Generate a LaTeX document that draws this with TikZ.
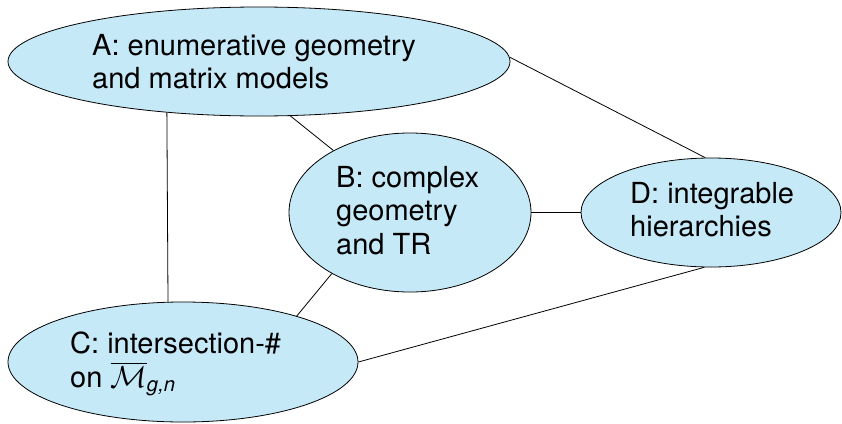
\documentclass[tikz,border=0pt]{standalone}
\usepackage{amsmath}
\usepackage{fontspec}
\setmainfont{TeX Gyre Heros}
\usetikzlibrary{shapes.geometric}
\definecolor{bubble}{RGB}{198,233,248}
\begin{document}
\begin{tikzpicture}[x=1pt,y=-1pt,
  bub/.style={ellipse,draw=black,fill=bubble,line width=0.8pt,inner sep=0pt},
  lab/.style={anchor=north west,align=left,inner sep=0pt,font=\fontsize{29}{33.5}\selectfont},
  link/.style={draw=black,line width=0.8pt}]
\useasboundingbox (0,0) rectangle (842,423);
\node[bub,minimum width=502pt,minimum height=109pt] (A) at (259,61.5) {};
\node[bub,minimum width=242pt,minimum height=159pt] (B) at (410,212.5) {};
\node[bub,minimum width=260pt,minimum height=109pt] (D) at (711,212.5) {};
\node[bub,minimum width=350pt,minimum height=120pt] (C) at (183,362) {};
\node[lab] (At) at (92,34) {A: enumerative geometry\\and matrix models};
\node[lab] (Bt) at (336,166) {B: complex\\geometry\\and TR};
\node[lab] (Dt) at (630,182) {D: integrable\\hierarchies};
\node[lab] (Ct) at (70,332) {C: intersection-\#\\on $\overline{\scalebox{1.22}{$\mathcal{M}$}}_{\textit{g,n}}$};
\draw[link] (A.209.5) -- (C.104);
\draw[link] (A.300.6) -- (B.141.4);
\draw[link] (A.1.5) -- (D.96.4);
\draw[link] (B.east) -- (D.west);
\draw[link] (B.218.6) -- (C.22.4);
\draw[link] (C.0) -- (D.263.6);
\end{tikzpicture}
\end{document}
